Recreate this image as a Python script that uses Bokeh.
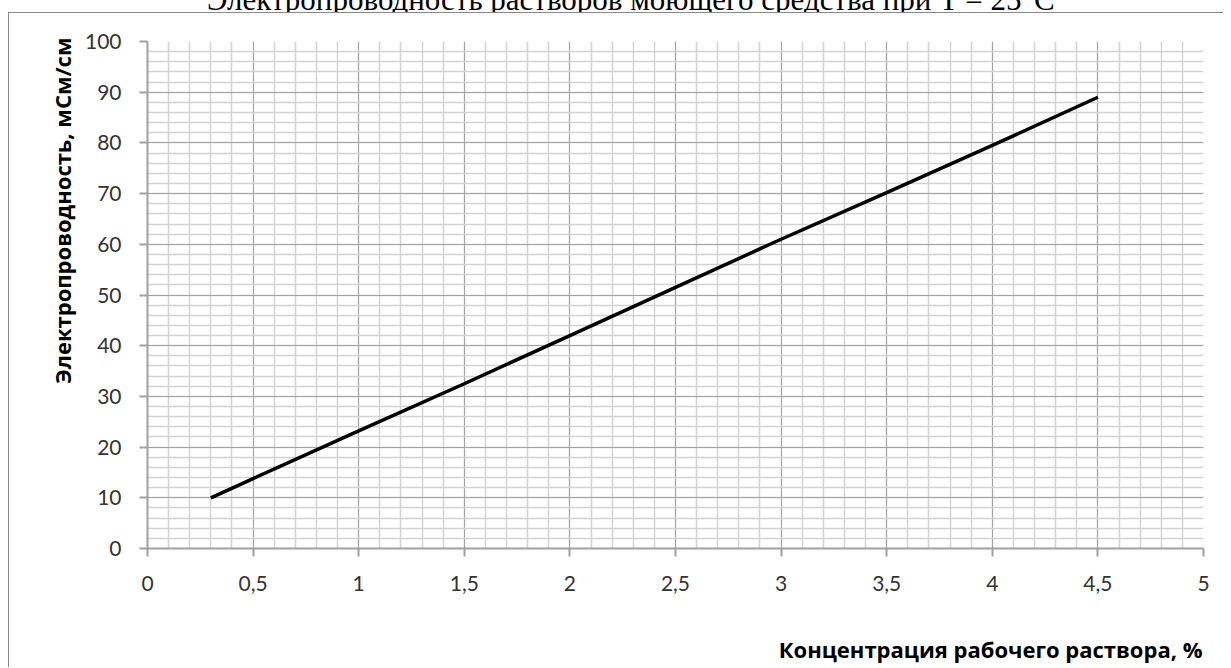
from bokeh.plotting import figure
from bokeh.models import Range1d, FixedTicker, Title, Div
from bokeh.layouts import column
from bokeh.embed import file_html
from bokeh.resources import INLINE

# data
conc = [0.3, 0.5, 1.0, 1.5, 2.0, 2.5, 3.0, 3.5, 4.0, 4.5]
cond = [10.0, 13.8, 23.2, 32.5, 42.0, 51.5, 61.0, 70.2, 79.5, 89.0]

x_ticks = [0, 0.5, 1, 1.5, 2, 2.5, 3, 3.5, 4, 4.5, 5]
x_tick_labels = ["0", "0,5", "1", "1,5", "2", "2,5", "3", "3,5", "4", "4,5", "5"]
y_ticks = [0, 10, 20, 30, 40, 50, 60, 70, 80, 90, 100]
x_minor = [round(i * 0.1, 1) for i in range(0, 51)]
y_minor = list(range(0, 101, 2))

title_text = "Электропроводность растворов моющего средства при T = 25°C"
x_label = "Концентрация рабочего раствора, %"
y_label = "Электропроводность, мСм/см"

TICK_FONT = "Lato"
LABEL_FONT = "Open Sans"

# clipped document title above the chart box
title_div = Div(
    text=('<div style="position:relative; top:-16px; left:207px; white-space:nowrap; '
          'font-family:\'Liberation Serif\'; font-size:31px; line-height:31px; color:#000;">'
          + title_text + '</div>'),
    width=1225, height=12, margin=(0, 0, 0, 0),
    styles={"overflow": "hidden", "position": "relative"},
)

p = figure(width=1215, height=655, output_backend="svg", toolbar_location=None,
           x_range=Range1d(0, 5), y_range=Range1d(0, 100),
           min_border_left=138, min_border_right=21, min_border_top=28, min_border_bottom=120,
           margin=(0, 0, 0, 8),
           styles={"border-left": "1px solid #8a8a8a", "border-top": "1px solid #8a8a8a"})
p.outline_line_color = None
p.background_fill_color = "white"
p.border_fill_color = "white"

for ax, tk, mn in ((p.xaxis, x_ticks, x_minor), (p.yaxis, y_ticks, y_minor)):
    ax.ticker = FixedTicker(ticks=tk, minor_ticks=mn)
    ax.axis_line_color = "#a0a0a0"
    ax.axis_line_width = 2
    ax.major_tick_line_color = "#a0a0a0"
    ax.major_tick_line_width = 2
    ax.major_tick_out = 8
    ax.major_tick_in = 0
    ax.minor_tick_line_color = None
    ax.major_label_text_font = TICK_FONT
    ax.major_label_text_font_size = "21px"
    ax.major_label_text_color = "#333333"

p.xaxis.major_label_overrides = {t: l for t, l in zip(x_ticks, x_tick_labels)}
p.xaxis.major_label_standoff = 19
p.yaxis.major_label_standoff = 18

for g in (p.xgrid, p.ygrid):
    g.grid_line_color = "#a3a3a3"
    g.grid_line_width = 1
    g.minor_grid_line_color = "#d2d2d2"
    g.minor_grid_line_width = 1.5

p.line(conc, cond, line_color="black", line_width=3.5)

# axis titles as side titles
p.add_layout(Title(text=y_label, align="right", offset=-4,
                   text_font=LABEL_FONT, text_font_style="bold", text_font_size="22px",
                   text_color="black"), "left")
# leading empty line pushes the x title down to the bottom of the chart box
p.add_layout(Title(text="\n" + x_label, align="right", offset=1,
                   text_font=LABEL_FONT, text_font_style="bold", text_font_size="22px",
                   text_line_height=1.1, text_color="black"), "below")

layout = column(title_div, p, spacing=0)
open("out.html", "w").write(file_html(layout, INLINE))
